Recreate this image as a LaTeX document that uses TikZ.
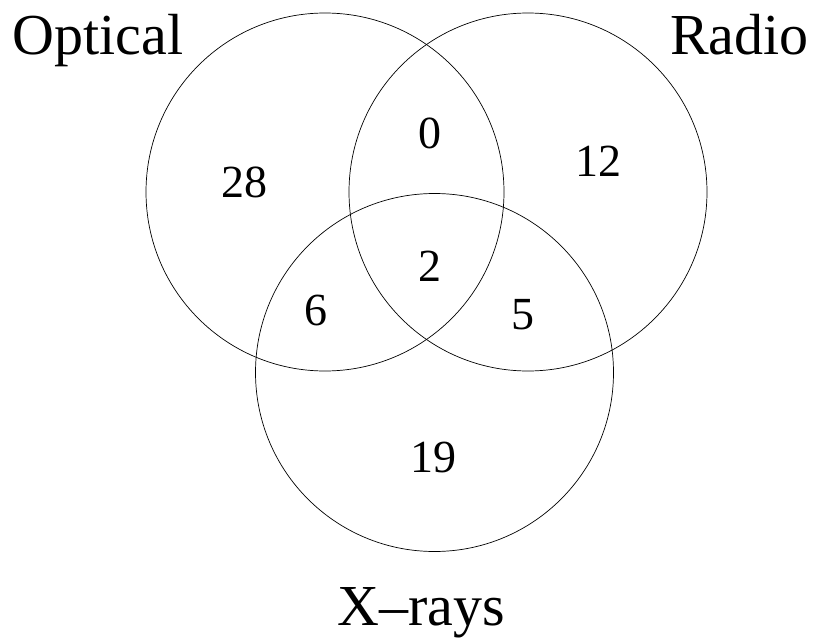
\documentclass[tikz,border=0pt]{standalone}
\usepackage{fontspec}
\setmainfont{Liberation Serif}
\usepackage{tikz}

\begin{document}
\begin{tikzpicture}[x=1pt,y=-1pt,
		ring/.style={draw, circle, line width=0.7pt, minimum size=358pt, inner sep=0pt},
		big/.style={font=\fontsize{58}{60}\selectfont, anchor=base, inner sep=0pt},
		num/.style={font=\fontsize{46}{48}\selectfont, anchor=base, inner sep=0pt}]
		\useasboundingbox (0,0) rectangle (815,642);
		\node[ring] (opt) at (325,192) {};
		\node[ring] (rad) at (528,192) {};
		\node[ring] (xr) at (434.5,372.5) {};
		\node[big] (lopt) at (98,55) {Optical};
		\node[big] (lrad) at (739.5,55) {Radio};
		\node[big] (lxr) at (421.5,625) {X--rays};
		\node[num] (n28) at (244,197) {28};
		\node[num] (n0) at (430,148) {0};
		\node[num] (n12) at (598,176) {12};
		\node[num] (n2) at (430,281) {2};
		\node[num] (n6) at (315.5,325) {6};
		\node[num] (n5) at (523,329) {5};
		\node[num] (n19) at (433,472) {19};
	\end{tikzpicture}
\end{document}
